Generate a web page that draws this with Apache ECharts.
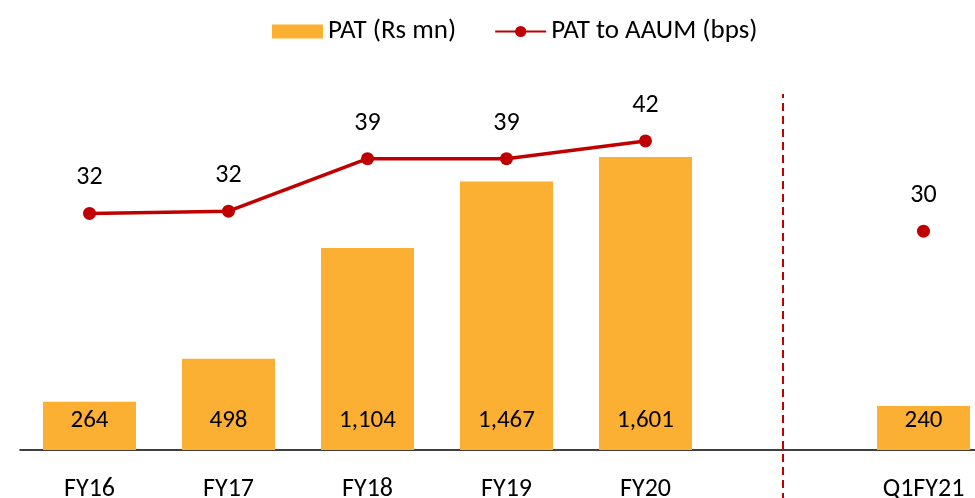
<!DOCTYPE html>
<html><head><meta charset="utf-8">
<script src="https://cdn.jsdelivr.net/npm/echarts@6/dist/echarts.min.js"></script>
<style>html,body{margin:0;padding:0;background:#fff}#c{width:975px;height:498px}</style>
</head><body><div id="c"></div>
<script>
const categories = ['FY16','FY17','FY18','FY19','FY20','','Q1FY21'];
const patValues = [264, 498, 1104, 1467, 1601, null, 240];
const bpsValues = [32.0, 32.3, 39.4, 39.4, 41.8, null, 29.6];
const dividerCategory = 5;

const FONT = 'Carlito, Lato, "Open Sans", sans-serif';
const chart = echarts.init(document.getElementById('c'));
chart.setOption({
  animation: false,
  textStyle: {fontFamily: FONT},
  legend: {
    left: 267, top: 13,
    itemWidth: 51, itemHeight: 14, itemGap: 38,
    textStyle: {fontSize: 27, color: '#000', fontFamily: FONT},
    data: [{name: 'PAT (Rs mn)', icon: 'rect'}, {name: 'PAT to AAUM (bps)'}]
  },
  grid: [
    {left: 20, width: 973, top: 84, height: 366, containLabel: false, outerBoundsMode: 'none'},
    {left: 18, width: 973, top: 94, height: 420, containLabel: false, outerBoundsMode: 'none'}
  ],
  xAxis: [
    {
      type: 'category', data: categories, gridIndex: 0,
      axisLine: {lineStyle: {color: '#000', width: 1.5}},
      axisTick: {show: false},
      axisLabel: {color: '#000', fontSize: 26, margin: 26, fontFamily: FONT, interval: 0}
    },
    {type: 'category', data: categories, gridIndex: 1, show: false}
  ],
  yAxis: [
    {type: 'value', min: 0, max: 2000, show: false, splitLine: {show: false}, gridIndex: 0},
    {type: 'value', min: 0, max: 49.5, show: false, splitLine: {show: false}, gridIndex: 0},
    {type: 'value', min: 0, max: 1, show: false, splitLine: {show: false}, gridIndex: 1}
  ],
  series: [
    {
      name: 'PAT (Rs mn)', type: 'bar', data: patValues, barWidth: 93,
      itemStyle: {color: '#FBB034'},
      label: {show: true, position: 'insideBottom', distance: 17, color: '#000', fontSize: 25, fontFamily: FONT,
        formatter: p => p.value.toLocaleString('en-US')}
    },
    {
      name: 'PAT to AAUM (bps)', type: 'line', yAxisIndex: 1, data: bpsValues,
      connectNulls: false, symbol: 'circle', symbolSize: 13,
      lineStyle: {color: '#C00000', width: 3.5}, itemStyle: {color: '#C00000'},
      label: {show: true, position: 'top', distance: 16, color: '#000', fontSize: 26, fontFamily: FONT,
        formatter: p => Math.round(p.value)}
    },
    {
      name: 'divider', type: 'line', xAxisIndex: 1, yAxisIndex: 2, data: [],
      markLine: {
        silent: true, symbol: 'none', animation: false,
        lineStyle: {color: '#C00000', type: [8, 5], width: 2},
        label: {show: false},
        data: [{xAxis: dividerCategory}]
      }
    }
  ]
});
</script></body></html>
